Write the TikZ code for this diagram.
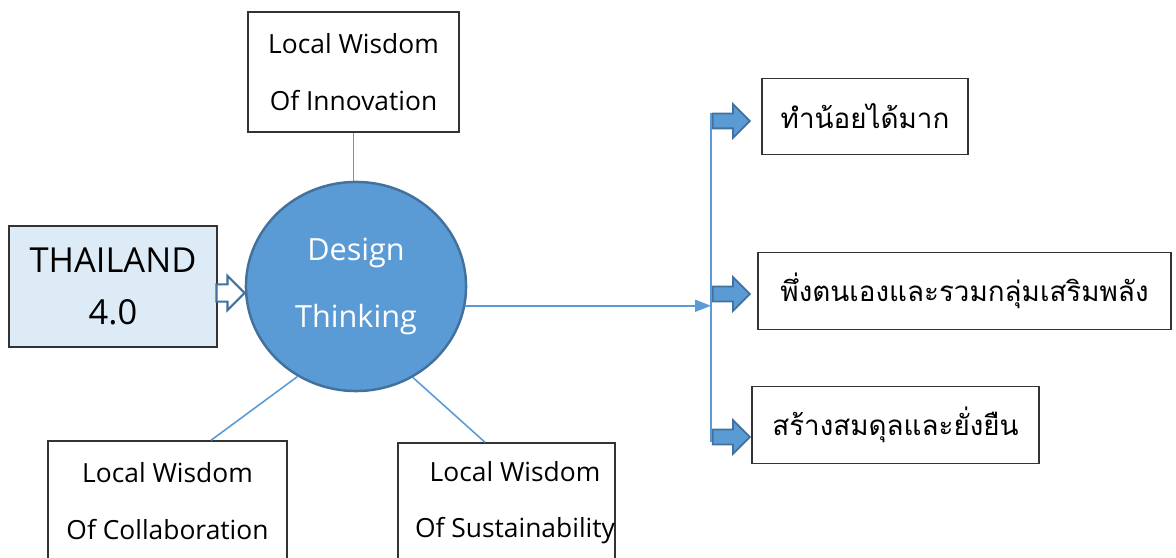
\documentclass[tikz,border=0pt]{standalone}
\usepackage{fontspec}
\setmainfont{Open Sans}
\newfontfamily\thaifont[Script=Thai]{Loma}
\usetikzlibrary{positioning,shapes.geometric,shapes.arrows,arrows.meta}
\definecolor{dtfill}{HTML}{5B9BD5}
\definecolor{dtline}{HTML}{41719C}
\definecolor{thfill}{HTML}{DDEBF7}
\tikzset{wisdom node/.style={draw=black!80,line width=0.4pt,align=center,inner sep=0pt,minimum height=12mm,font=\fontsize{7.5}{16}\selectfont},
goal node/.style={draw=black!80,line width=0.4pt,inner sep=0pt,minimum height=7.65mm,font=\thaifont\fontsize{7.9}{10}\selectfont},
goal arrow/.style={single arrow,draw=dtline,fill=dtfill,line width=0.5pt,minimum height=3.7mm,inner sep=0.65mm,single arrow head extend=0.95mm,anchor=tip},
link/.style={draw=dtfill,line width=0.45pt},}

\begin{document}
\begin{tikzpicture}[x=0.01cm,y=-0.01cm]
    \useasboundingbox (0,0) rectangle (1176,558);

    \node[draw=black!80,fill=thfill,line width=0.4pt,minimum width=20.8mm,minimum height=12.1mm,align=center,font=\fontsize{9.8}{15}\selectfont] (thai) at (113,286.5) {THAILAND\\4.0};
    \node[ellipse,draw=dtline,fill=dtfill,line width=0.7pt,inner sep=0pt,minimum width=22mm,minimum height=20.9mm,align=center,text=white,font=\fontsize{8.7}{19.3}\selectfont] (dt) at (356,286.5) {Design\\Thinking};

    \node[wisdom node,minimum width=21.1mm] (inno) at (353.5,72) {Local Wisdom\\Of Innovation};
    \node[wisdom node,minimum width=23.9mm] (colla) at (167.5,501) {Local Wisdom\\Of Collaboration};
    \node[wisdom node,minimum width=21.5mm] (sust) at (506.5,503) {\hspace*{1.7mm}Local Wisdom\\\hspace*{1.7mm}Of Sustainability};

    \node[goal node,minimum width=20.6mm] (less) at (865,116.5) {ทำน้อยได้มาก};
    \node[goal node,minimum width=41.3mm] (self) at (964.5,291) {พึ่งตนเองและรวมกลุ่มเสริมพลัง};
    \node[goal node,minimum width=28.7mm] (bal) at (895.5,425) {สร้างสมดุลและยั่งยืน};

    \node[single arrow,draw=dtline,fill=white,line width=0.6pt,minimum height=2.8mm,inner sep=0.75mm,single arrow head extend=0.85mm,anchor=tip] (feed) at (246,293) {};

    \coordinate (bar top) at (711,113);
    \coordinate (bar bottom) at (711,442);
    \node[goal arrow] (to less) at (751,121) {};
    \node[goal arrow] (to self) at (751,294) {};
    \node[goal arrow] (to bal) at (751,437) {};

    \draw[link] (inno.south) -- (inno.south |- dt.north);
    \draw[link] (dt.237) -- ([xshift=4.35mm]colla.north);
    \draw[link] (dt.302) -- ([xshift=-2.15mm]sust.north);
    \draw[link] (bar top) -- (bar bottom);
    \draw[link,-{Triangle[length=1.6mm,width=1.2mm]}] (dt.-10) -- (dt.-10 -| bar top);
\end{tikzpicture}
\end{document}
